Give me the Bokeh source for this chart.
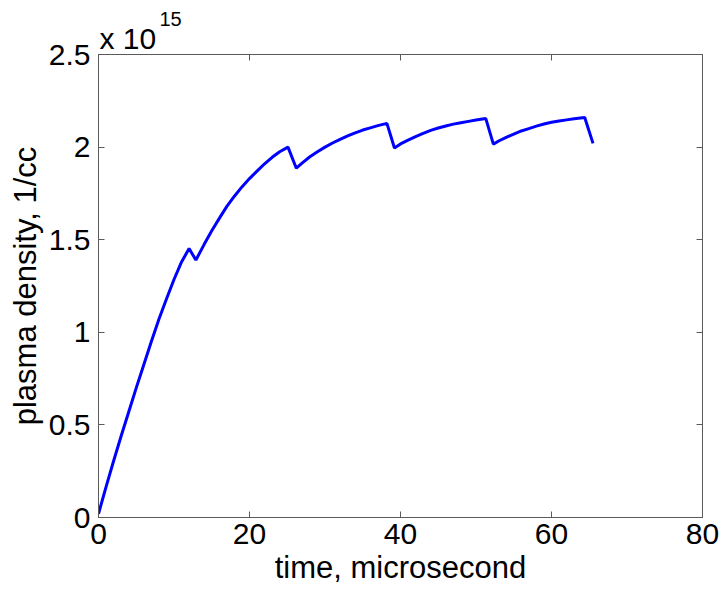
from bokeh.plotting import figure
from bokeh.models import Range1d, LinearAxis, FixedTicker, Label
from bokeh.embed import file_html
from bokeh.resources import INLINE

# time in microseconds, plasma density in units of 1e15 per cc
time_us = [0, 1, 2, 3, 4, 5, 6, 7, 8, 9, 10, 11, 12.0,
           12.9, 14, 15, 16, 17, 18, 19, 20, 21, 22, 23, 24, 25.1,
           26.2, 27, 28, 29, 30, 31, 32, 33, 34, 35, 36, 37, 38.2,
           39.2, 40, 41, 42, 43, 44, 45, 46, 47, 48, 49, 50, 51.3,
           52.3, 53, 54, 55, 56, 57, 58, 59, 60, 61, 62, 63, 64.4,
           65.5]
density_e15 = [0.02, 0.165, 0.305, 0.44, 0.57, 0.70, 0.825, 0.95, 1.07, 1.18, 1.285, 1.38, 1.452,
               1.39, 1.475, 1.548, 1.615, 1.68, 1.735, 1.785, 1.83, 1.87, 1.91, 1.945, 1.975, 2.0,
               1.886, 1.915, 1.948, 1.975, 2.0, 2.022, 2.042, 2.06, 2.077, 2.092, 2.104, 2.116, 2.128,
               1.995, 2.017, 2.038, 2.057, 2.074, 2.09, 2.103, 2.114, 2.124, 2.132, 2.139, 2.146, 2.154,
               2.016, 2.033, 2.053, 2.07, 2.087, 2.1, 2.113, 2.125, 2.134, 2.141, 2.147, 2.153, 2.16,
               2.02]

x_ticks = [0, 20, 40, 60, 80]
y_ticks = [0, 0.5, 1, 1.5, 2, 2.5]
y_tick_labels = ["0", "0.5", "1", "1.5", "2", "2.5"]

FONT = "Liberation Sans"
TICK_FS = "30px"
LABEL_FS = "31px"
FRAME = "#5a5a5a"

p = figure(width=723, height=592, output_backend="svg", toolbar_location=None,
           x_range=Range1d(0, 80), y_range=Range1d(0, 2.5),
           min_border_left=98, min_border_right=21, min_border_top=54, min_border_bottom=75,
           x_axis_label="time, microsecond", y_axis_label="plasma density, 1/cc")
p.grid.visible = False
p.outline_line_color = FRAME
p.background_fill_color = "white"
p.border_fill_color = "white"

p.line(time_us, density_e15, line_color="#0000ff", line_width=3)

def style(ax, ticks, show_labels):
    ax.ticker = FixedTicker(ticks=ticks)
    ax.major_tick_in = 6
    ax.major_tick_out = 0
    ax.minor_tick_line_color = None
    ax.axis_line_color = FRAME
    ax.major_tick_line_color = FRAME
    ax.major_label_text_font = FONT
    if show_labels:
        ax.major_label_text_color = "black"
        ax.major_label_text_font_size = TICK_FS
    else:
        ax.major_label_text_color = None
        ax.major_label_text_font_size = "0px"
        ax.major_label_standoff = 0

xa = p.xaxis[0]
style(xa, x_ticks, True)
xa.major_label_standoff = 6
xa.axis_label_text_font = FONT
xa.axis_label_text_font_size = LABEL_FS
xa.axis_label_text_font_style = "normal"
xa.axis_label_text_color = "black"
xa.axis_label_standoff = 3

ya = p.yaxis[0]
style(ya, y_ticks, True)
ya.major_label_overrides = {t: s for t, s in zip(y_ticks, y_tick_labels)}
ya.major_label_standoff = 8
ya.axis_label_text_font = FONT
ya.axis_label_text_font_size = LABEL_FS
ya.axis_label_text_font_style = "normal"
ya.axis_label_text_color = "black"
ya.axis_label_standoff = 3

top = LinearAxis()
style(top, x_ticks, False)
p.add_layout(top, "above")
right = LinearAxis()
style(right, y_ticks, False)
p.add_layout(right, "right")

p.add_layout(Label(x=1, y=16, x_units="screen", y_units="screen", text="x 10",
                   text_font=FONT, text_font_size=TICK_FS, text_color="black",
                   text_baseline="alphabetic", text_align="left"), "above")
p.add_layout(Label(x=61, y=3, x_units="screen", y_units="screen", text="15",
                   text_font=FONT, text_font_size="20px", text_color="black",
                   text_baseline="alphabetic", text_align="left"), "above")

open("out.html", "w").write(file_html(p, INLINE))
